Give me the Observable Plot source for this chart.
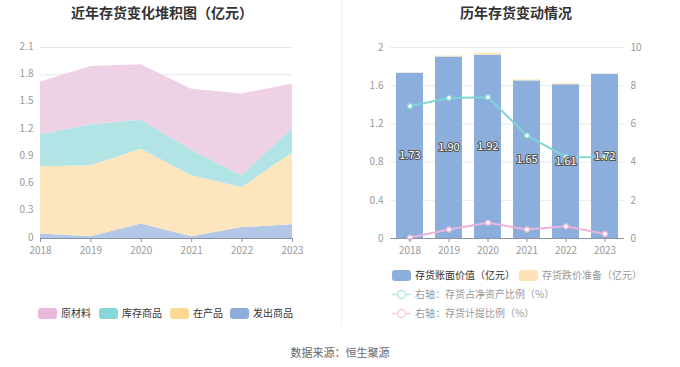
<!DOCTYPE html>
<html><head><meta charset="utf-8">
<script src="https://cdn.jsdelivr.net/npm/d3@7"></script>
<script src="https://cdn.jsdelivr.net/npm/@observablehq/plot@0.6"></script>
<style>
body{margin:0;width:680px;height:367px;position:relative;background:#fff;font-family:"Noto Sans CJK SC","Noto Sans",sans-serif;overflow:hidden}
.abs{position:absolute}
.title{font-size:14px;font-weight:bold;color:#333;top:2px;white-space:nowrap;transform:translateX(-50%);line-height:20px}
.divider{left:341px;top:0;width:1px;height:325px;background:#f0f0f0}
.leg{font-size:10px;white-space:nowrap;line-height:14px;display:flex;align-items:center}
.sw{width:19px;height:11px;border-radius:3px;display:inline-block;margin-right:4px}
.src{font-size:11px;color:#666;top:344px;left:340px;transform:translateX(-50%);white-space:nowrap}
svg text{font-family:"Noto Sans CJK SC","Noto Sans",sans-serif}
</style></head>
<body>
<div class="abs title" style="left:162px">近年存货变化堆积图（亿元）</div>
<div class="abs title" style="left:516px">历年存货变动情况</div>
<div class="abs divider"></div>
<div id="left" class="abs" style="left:0;top:0"></div>
<div id="right" class="abs" style="left:340px;top:0"></div>
<div id="legL"></div>
<div id="legR"></div>
<div class="abs src">数据来源：恒生聚源</div>
<script>
// ---- data ----
const years = [2018, 2019, 2020, 2021, 2022, 2023];
// left stacked area (亿元)
const seriesNames = ["原材料", "库存商品", "在产品", "发出商品"];
const rawMaterial = [0.58, 0.64, 0.61, 0.67, 0.90, 0.49];
const finishedGoods = [0.35, 0.45, 0.32, 0.28, 0.13, 0.27];
const wip = [0.74, 0.78, 0.82, 0.67, 0.44, 0.79];
const shipped = [0.05, 0.02, 0.16, 0.02, 0.12, 0.15];
// right chart
const bookValue = [1.73, 1.90, 1.92, 1.65, 1.61, 1.72];
const impairment = [0.003, 0.01, 0.02, 0.01, 0.01, 0.004];
const netAssetRatio = [6.93, 7.36, 7.40, 5.39, 4.27, 4.26];
const provisionRatio = [0.05, 0.47, 0.82, 0.47, 0.64, 0.24];
const barNames = ["存货账面价值（亿元）", "存货跌价准备（亿元）"];
const lineNames = ["右轴：存货占净资产比例（%）", "右轴：存货计提比例（%）"];

const areaColors = ["#edcde3", "#ace2e3", "#fde3b8", "#adc2e5"];
const legendColors = ["#e9b9da", "#86d7d8", "#fdd995", "#8eaddd"];
const font = {fontSize: "10px", fontFamily: '"Noto Sans CJK SC","Noto Sans",sans-serif', overflow: "visible"};

// ---- left chart ----
const seriesVals = {"原材料": rawMaterial, "库存商品": finishedGoods, "在产品": wip, "发出商品": shipped};
const stackOrder = ["发出商品", "在产品", "库存商品", "原材料"];
const tidy = [];
for (const s of stackOrder) years.forEach((y, i) => tidy.push({year: y, series: s, value: seriesVals[s][i]}));
const yTicksL = [0, 0.3, 0.6, 0.9, 1.2, 1.5, 1.8, 2.1];

const left = Plot.plot({
  width: 340, height: 260, marginTop: 47, marginBottom: 22, marginLeft: 40, marginRight: 48,
  style: font,
  x: {type: "linear", domain: [2018, 2023]},
  y: {domain: [0, 2.1]},
  color: {domain: seriesNames, range: areaColors},
  marks: [
    Plot.gridY(yTicksL, {stroke: "#e3e6f2", strokeOpacity: 1}),
    Plot.areaY(tidy, {x: "year", y: "value", z: "series", fill: "series", order: stackOrder, fillOpacity: 0.92}),
    Plot.ruleY([0], {stroke: "#8a93a6"}),
    Plot.axisY(yTicksL, {label: null, tickSize: 0, tickPadding: 7, dy: -1, fill: "#999", tickFormat: d => String(+d.toFixed(1))}),
    Plot.axisX(years, {label: null, tickSize: 4, tickPadding: 4, stroke: "#8a93a6", fill: "#999", tickFormat: d => String(d)})
  ]
});
document.getElementById("left").appendChild(left);

// ---- right chart ----
const bars = [];
years.forEach((y, i) => {
  bars.push({year: y, series: barNames[0], value: bookValue[i]});
  bars.push({year: y, series: barNames[1], value: impairment[i]});
});
const lines = [];
years.forEach((y, i) => {
  lines.push({year: y, series: lineNames[0], v: netAssetRatio[i]});
  lines.push({year: y, series: lineNames[1], v: provisionRatio[i]});
});
const yTicksR = [0, 0.4, 0.8, 1.2, 1.6, 2];
const lineColors = {[lineNames[0]]: "#7fd5d6", [lineNames[1]]: "#e9b4d9"};

const right = Plot.plot({
  width: 340, height: 260, marginTop: 47, marginBottom: 22, marginLeft: 50, marginRight: 56,
  style: font,
  x: {type: "band", domain: years, paddingInner: 0.3, paddingOuter: 0.15},
  y: {domain: [0, 2]},
  color: {domain: barNames, range: ["#8caedd", "#fde3b5"]},
  marks: [
    Plot.gridY(yTicksR, {stroke: "#e6e9f3", strokeOpacity: 1}),
    Plot.barY(bars, {x: "year", y: "value", fill: "series", order: barNames}),
    Plot.ruleY([0], {stroke: "#8a93a6"}),
    ...lineNames.map(n => Plot.line(lines.filter(d => d.series === n), {x: "year", y: d => d.v / 5, stroke: lineColors[n], strokeWidth: 2})),
    ...lineNames.map(n => Plot.dot(lines.filter(d => d.series === n), {x: "year", y: d => d.v / 5, r: 2.5, fill: "#fff", stroke: lineColors[n], strokeWidth: 1.3})),
    Plot.text(years.map((y, i) => ({year: y, v: bookValue[i]})), {x: "year", y: d => d.v / 2, text: d => d.v.toFixed(2), fill: "#fff", stroke: "#555", strokeWidth: 2.2, fontSize: 11}),
    Plot.axisY(yTicksR, {label: null, tickSize: 0, tickPadding: 7, fill: "#999", tickFormat: d => String(+d.toFixed(1))}),
    Plot.axisY(yTicksR, {label: null, anchor: "right", tickSize: 0, tickPadding: 6, fill: "#999", tickFormat: d => String(Math.round(d * 5))}),
    Plot.axisX(years, {label: null, tickSize: 4, tickPadding: 4, stroke: "#8a93a6", fill: "#999", tickFormat: d => String(d)})
  ]
});
document.getElementById("right").appendChild(right);

// ---- legends ----
const legL = document.getElementById("legL");
const lx = [38, 99, 170, 230];
seriesNames.forEach((n, i) => {
  const d = document.createElement("div");
  d.className = "abs leg";
  d.style.left = lx[i] + "px"; d.style.top = "306px"; d.style.color = "#333";
  d.innerHTML = `<span class="sw" style="background:${legendColors[i]}"></span>${n}`;
  legL.appendChild(d);
});
const legR = document.getElementById("legR");
const items = [
  {x: 392, y: 268, sw: "#8caedd", t: barNames[0], c: "#333"},
  {x: 519, y: 268, sw: "#fde3b5", t: barNames[1], c: "#999"},
  {x: 392, y: 287, line: "#b2e8e8", t: lineNames[0], c: "#999"},
  {x: 392, y: 306, line: "#f4cde6", t: lineNames[1], c: "#999"}
];
items.forEach(it => {
  const d = document.createElement("div");
  d.className = "abs leg";
  d.style.left = it.x + "px"; d.style.top = it.y + "px"; d.style.color = it.c;
  const icon = it.sw
    ? `<span class="sw" style="background:${it.sw}"></span>`
    : `<svg width="19" height="11" style="margin-right:4px"><line x1="0" y1="5.5" x2="19" y2="5.5" stroke="${it.line}" stroke-width="1.5"/><circle cx="9.5" cy="5.5" r="4" fill="#fff" stroke="${it.line}" stroke-width="1.5"/></svg>`;
  d.innerHTML = icon + it.t;
  legR.appendChild(d);
});
</script>
</body></html>
